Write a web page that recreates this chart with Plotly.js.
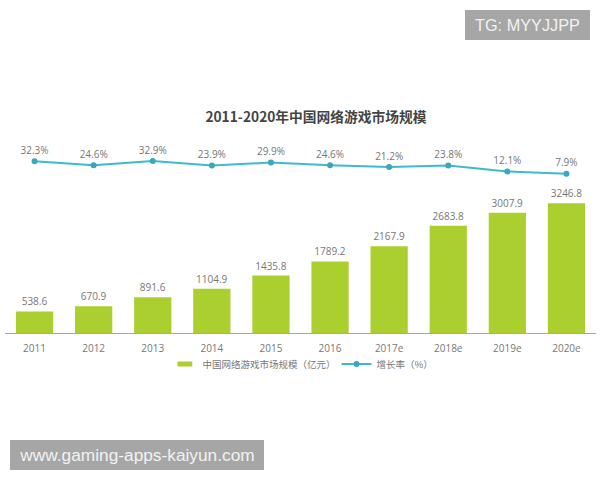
<!DOCTYPE html>
<html><head><meta charset="utf-8">
<script src="https://cdn.plot.ly/plotly-3.0.0.min.js"></script>
<style>html,body{margin:0;padding:0;background:#fff}</style></head>
<body><div id="chart" style="width:600px;height:480px"></div>
<script>
const categories = ['2011','2012','2013','2014','2015','2016','2017e','2018e','2019e','2020e'];
const marketSize = [538.6,670.9,891.6,1104.9,1435.8,1789.2,2167.9,2683.8,3007.9,3246.8];
const growthRate = [32.3,24.6,32.9,23.9,29.9,24.6,21.2,23.8,12.1,7.9];
const growthLabels = ['32.3%','24.6%','32.9%','23.9%','29.9%','24.6%','21.2%','23.8%','12.1%','7.9%'];
const sizeLabels = ['538.6','670.9','891.6','1104.9','1435.8','1789.2','2167.9','2683.8','3007.9','3246.8'];
const emptySeries = categories.map(() => null);
const titleText = '2011-2020年中国网络游戏市场规模';
const sizeName = '中国网络游戏市场规模（亿元）';
const rateName = '增长率（%）';
const W = 600, H = 480, mL = 5, mR = 4, mT = 140, mB = 147;
const px = x => (x - mL) / (W - mL - mR);
const py = y => (H - mB - y) / (H - mT - mB);
const labelFont = {family:'"Open Sans","Noto Sans",sans-serif', size:10, color:'#777'};
const green = '#abcf2f', teal = '#3cbccb';
function badge(text, x0, x1, y0, y1, size){
  return {text, xref:'paper', yref:'paper', x:px((x0+x1)/2), y:py((y0+y1)/2), xanchor:'center', yanchor:'middle',
    showarrow:false, width:x1-x0, height:y1-y0, bgcolor:'#a6a6a6', align:'center', valign:'middle',
    borderpad:0, borderwidth:0,
    font:{family:'"Liberation Sans",Arial,sans-serif', size, color:'#f2f2f2'}};
}
Plotly.newPlot('chart', [
  {type:'bar', x:categories, y:marketSize, text:sizeLabels, textposition:'outside', cliponaxis:false,
   textfont:labelFont, marker:{color:green}, showlegend:false, width:0.63, hoverinfo:'x+y'},
  {type:'scatter', mode:'markers', x:categories, y:emptySeries, name:sizeName,
   marker:{symbol:'line-ew', size:14, color:green, line:{color:green,width:5}}, hoverinfo:'skip'},
  {type:'scatter', mode:'lines+markers+text', x:categories, y:growthRate, yaxis:'y2', name:rateName,
   text:growthLabels, textposition:'top center', textfont:labelFont, cliponaxis:false,
   line:{color:teal,width:2}, marker:{color:'#3aa8ba',size:6}}
], {
  width:W, height:H, margin:{l:mL,r:mR,t:mT,b:mB,pad:0},
  paper_bgcolor:'#fff', plot_bgcolor:'#fff', bargap:0.37,
  title:{text:'<b>'+titleText+'</b>', x:316/W, xanchor:'center', y:1-117/H, yanchor:'middle',
    font:{family:'"Noto Sans CJK SC","Noto Sans",sans-serif', size:13.75, color:'#444'}},
  xaxis:{type:'category', range:[-0.5,9.5], showgrid:false, zeroline:false, showline:true, linecolor:'#a8a8a8', linewidth:1,
    ticks:'outside', ticklen:5.5, tickcolor:'rgba(0,0,0,0)', tickfont:labelFont, fixedrange:true},
  yaxis:{range:[0,4825], visible:false, fixedrange:true},
  yaxis2:{range:[-305.7,74.2], overlaying:'y', side:'right', visible:false, fixedrange:true},
  legend:{orientation:'h', x:px(177.5), xanchor:'left', y:py(364), yanchor:'middle', bgcolor:'rgba(0,0,0,0)',
    itemwidth:30, indentation:-15, entrywidth:144, entrywidthmode:'pixels',
    font:{family:'"Noto Sans CJK SC",sans-serif', size:9.5, color:'#777'}},
  annotations:[badge('www.gaming-apps-kaiyun.com',10,264,440,470,17.3), badge('TG: MYYJJPP',465,590,10,40,16.3)]
}, {displayModeBar:false, staticPlot:true});
</script></body></html>
